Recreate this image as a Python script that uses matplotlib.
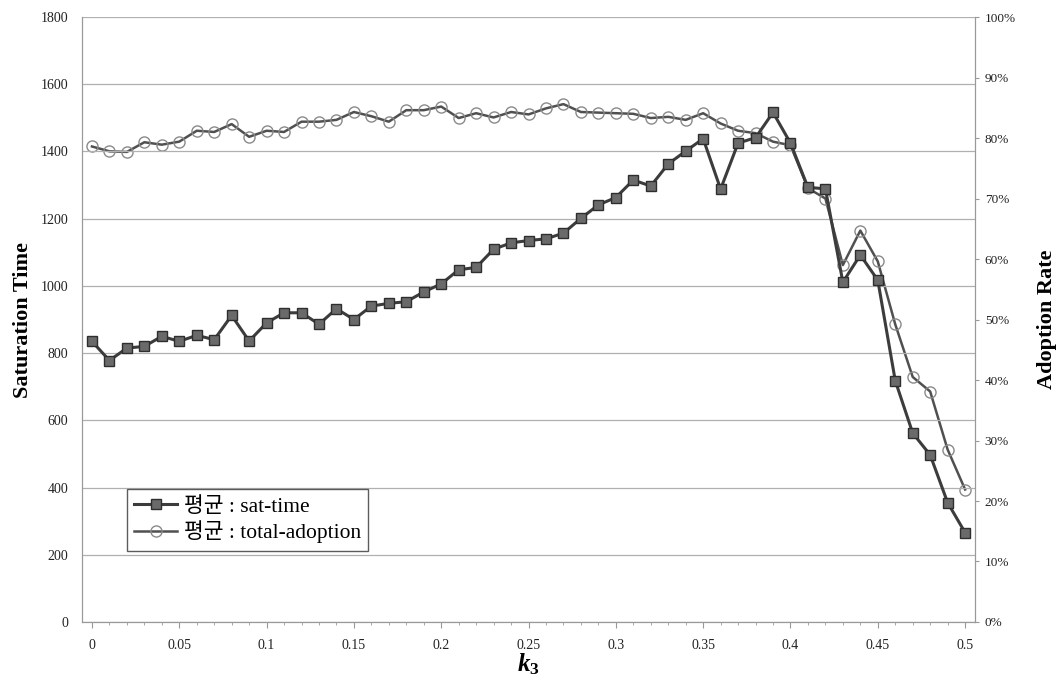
import numpy as np
import matplotlib
matplotlib.use("Agg")
from matplotlib import pyplot as plt
from matplotlib.ticker import MultipleLocator, FuncFormatter

plt.rcParams['mathtext.fontset'] = 'custom'
plt.rcParams['mathtext.it'] = 'Liberation Serif:italic:bold'
plt.rcParams['mathtext.rm'] = 'Liberation Serif:bold'

k3 = [i / 100 for i in range(51)]

sat_time = [835, 778, 815, 820, 850, 835, 853, 840, 912, 836,
            890, 920, 920, 886, 932, 900, 940, 948, 953, 982,
            1006, 1048, 1055, 1109, 1128, 1135, 1140, 1157, 1201, 1241,
            1263, 1315, 1297, 1363, 1401, 1438, 1288, 1425, 1441, 1516,
            1425, 1293, 1289, 1011, 1092, 1017, 718, 562, 497, 355,
            266]

adoption = [78.6, 77.8, 77.7, 79.3, 78.9, 79.4, 81.2, 81.0, 82.3, 80.2,
            81.2, 81.0, 82.7, 82.7, 83.0, 84.3, 83.6, 82.7, 84.6, 84.6,
            85.2, 83.3, 84.1, 83.4, 84.3, 83.9, 84.9, 85.6, 84.3, 84.2,
            84.1, 84.0, 83.3, 83.5, 83.0, 84.1, 82.4, 81.2, 80.8, 79.4,
            78.8, 71.7, 70.0, 59.0, 64.7, 59.6, 49.2, 40.5, 38.1, 28.5,
            21.9]

serif = ['Liberation Serif', 'DejaVu Serif']
kr = ['Liberation Serif', 'Noto Sans CJK KR']

fig = plt.figure(figsize=(10.61, 6.78), dpi=100)
ax = fig.add_axes([0.0773, 0.0826, 0.8417, 0.8923])
ax2 = ax.twinx()

ax.set_xlim(-0.0057, 0.5057)
ax.set_ylim(0, 1800)
ax2.set_ylim(0, 1.0)

ax.yaxis.set_major_locator(MultipleLocator(200))
ax.xaxis.set_major_locator(MultipleLocator(0.05))
ax.xaxis.set_minor_locator(MultipleLocator(0.01))
ax2.yaxis.set_major_locator(MultipleLocator(0.1))
ax2.yaxis.set_major_formatter(FuncFormatter(lambda v, p: "%d%%" % round(v * 100)))
ax.xaxis.set_major_formatter(FuncFormatter(lambda v, p: "0" if abs(v) < 1e-9 else ("%g" % round(v, 2))))

ax.grid(axis='y', color='#b0b0b0', lw=0.9)
ax.set_axisbelow(True)

for a in (ax, ax2):
    for s in a.spines.values():
        s.set_color('#999999')
        s.set_linewidth(0.8)
ax.spines['top'].set_visible(False)
ax2.spines['top'].set_visible(False)

ax.tick_params(axis='y', length=0, labelsize=10, pad=10)
ax.tick_params(axis='x', which='both', direction='out', color='#999999', labelsize=10, pad=8)
ax.tick_params(axis='x', which='major', length=4)
ax.tick_params(axis='x', which='minor', length=2.5)
ax2.tick_params(axis='y', direction='out', length=3, color='#999999', labelsize=9.5, pad=4)

for lab in ax.get_xticklabels() + ax.get_yticklabels() + ax2.get_yticklabels():
    lab.set_family(serif)
    lab.set_color('#222222')

l2, = ax2.plot(k3, [v / 100 for v in adoption], color='#505050', lw=1.8,
               marker='o', ms=8, mfc='none', mec='#8a8a8a', mew=1.0,
               label='평균 : total-adoption', zorder=2)
l1, = ax.plot(k3, sat_time, color='#3c3c3c', lw=2.2,
              marker='s', ms=7.5, mfc='#6a6a6a', mec='#2e2e2e', mew=1.0,
              label='평균 : sat-time', zorder=3)
ax.set_zorder(ax2.get_zorder() + 1)
ax.patch.set_visible(False)

ax.set_ylabel('Saturation Time', family=serif, fontsize=16, fontweight='bold', labelpad=5)
ax2.set_ylabel('Adoption Rate', family=serif, fontsize=16, fontweight='bold', labelpad=15)
ax.set_xlabel('$k_3$', fontsize=18, labelpad=0)

leg = ax.legend(handles=[l1, l2], loc='lower left', bbox_to_anchor=(0.05, 0.118),
                prop={'family': kr, 'size': 15.5}, frameon=True, fancybox=False,
                handlelength=2.0, handletextpad=0.3, borderpad=0.35, labelspacing=0.15,
                borderaxespad=0)
leg.get_frame().set_edgecolor('#333333')
leg.get_frame().set_linewidth(1.0)

fig.savefig('out.png', dpi=100)
